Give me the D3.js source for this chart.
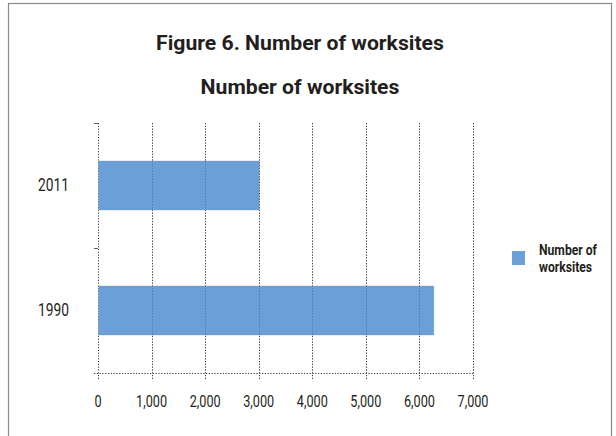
<!DOCTYPE html>
<html>
<head>
<meta charset="utf-8">
<script src="https://cdn.jsdelivr.net/npm/d3@7"></script>
<style>
  html, body { margin: 0; padding: 0; background: #fff; }
  svg { display: block; }
  text { font-family: "Roboto", "Noto Sans", sans-serif; fill: #231f20; }
</style>
</head>
<body>
<svg id="chart" width="616" height="436"></svg>
<script>
// Worksite counts by year
const categories = ["2011", "1990"];
const worksites = [3000, 6260];
const xTicks = [0, 1000, 2000, 3000, 4000, 5000, 6000, 7000];
const titleLines = ["Figure 6. Number of worksites", "Number of worksites"];
const legendLabel = ["Number of", "worksites"];

const svg = d3.select("#chart");
const plot = { left: 98, right: 473, top: 123, bottom: 373 };
const barColor = "#6a9fd8";
const gridColor = "#3a3a3a";

// Draw text condensed horizontally so that `refText` would occupy `refWidth` px
function condensedText(g, data, opts) {
  const probe = svg.append("text")
    .attr("font-size", opts.size)
    .attr("font-weight", opts.weight || "normal")
    .text(opts.refText);
  const sx = opts.refWidth / probe.node().getComputedTextLength();
  probe.remove();
  return g.selectAll(null)
    .data(data)
    .join("text")
    .attr("transform", (d, i) => `translate(${opts.x(d, i)},${opts.y(d, i)}) scale(${sx},1)`)
    .attr("text-anchor", opts.anchor || "start")
    .attr("font-size", opts.size)
    .attr("font-weight", opts.weight || "normal")
    .text(d => d);
}

// Page frame
svg.append("rect")
  .attr("x", 8.5).attr("y", 3.5)
  .attr("width", 603).attr("height", 440)
  .attr("fill", "#fff").attr("stroke", "#8a8a8a").attr("stroke-width", 1.2);

// Titles
condensedText(svg.append("g"), titleLines, {
  size: 21, weight: "bold", anchor: "middle",
  refText: titleLines[0], refWidth: 288,
  x: () => 300, y: (d, i) => 50 + i * 44
});

const x = d3.scaleLinear().domain([0, 7000]).range([plot.left, plot.right]);
const y = d3.scaleBand().domain(categories)
  .range([plot.top, plot.bottom])
  .paddingInner(0.608).paddingOuter(0.304);

// Vertical dotted gridlines
svg.append("g")
  .selectAll("line")
  .data(xTicks)
  .join("line")
  .attr("x1", d => Math.round(x(d)) + 0.5).attr("x2", d => Math.round(x(d)) + 0.5)
  .attr("y1", plot.top).attr("y2", plot.bottom + 6)
  .attr("stroke", gridColor).attr("stroke-width", 1)
  .attr("stroke-dasharray", "1.2,1.6");

// Bars
svg.append("g")
  .selectAll("rect")
  .data(categories.map((c, i) => ({ c, v: worksites[i] })))
  .join("rect")
  .attr("x", x(0) + 0.5)
  .attr("y", d => y(d.c))
  .attr("width", d => x(d.v) - x(0))
  .attr("height", y.bandwidth())
  .attr("fill", barColor)
  .attr("stroke", "#7d8ea6").attr("stroke-width", 0.6)
  .attr("stroke-dasharray", "1,1");

// Gridlines showing through the bars
svg.append("g")
  .selectAll("line")
  .data(xTicks.slice(1))
  .join("line")
  .attr("x1", d => Math.round(x(d)) + 0.5).attr("x2", d => Math.round(x(d)) + 0.5)
  .attr("y1", plot.top).attr("y2", plot.bottom)
  .attr("stroke", "#3f4d62").attr("stroke-width", 0.8)
  .attr("stroke-dasharray", "1.2,1.6")
  .attr("opacity", 0.6);

// Bottom axis line (dotted)
svg.append("line")
  .attr("x1", plot.left - 4).attr("x2", plot.right + 1)
  .attr("y1", plot.bottom + 0.5).attr("y2", plot.bottom + 0.5)
  .attr("stroke", gridColor).attr("stroke-width", 1)
  .attr("stroke-dasharray", "1.2,1.6");

// Y axis: small category boundary ticks
const boundaries = [plot.top, (plot.top + plot.bottom) / 2];
svg.append("g")
  .selectAll("line")
  .data(boundaries)
  .join("line")
  .attr("x1", plot.left - 4).attr("x2", plot.left)
  .attr("y1", d => d + 0.5).attr("y2", d => d + 0.5)
  .attr("stroke", gridColor).attr("stroke-width", 0.8);

// Y category labels
condensedText(svg.append("g"), categories, {
  size: 18, anchor: "end",
  refText: "2011", refWidth: 31,
  x: () => 69, y: d => y(d) + y.bandwidth() / 2 + 5
});

// X tick labels
const fmt = d3.format(",");
condensedText(svg.append("g"), xTicks.map(fmt), {
  size: 17, anchor: "middle",
  refText: "1,000", refWidth: 31,
  x: (d, i) => x(xTicks[i]), y: () => 407
});

// Legend
svg.append("rect")
  .attr("x", 512).attr("y", 251)
  .attr("width", 13).attr("height", 14)
  .attr("fill", barColor);
condensedText(svg.append("g"), legendLabel, {
  size: 15, weight: "bold", anchor: "start",
  refText: legendLabel[0], refWidth: 58,
  x: () => 539, y: (d, i) => 255 + i * 17
});
</script>
</body>
</html>
